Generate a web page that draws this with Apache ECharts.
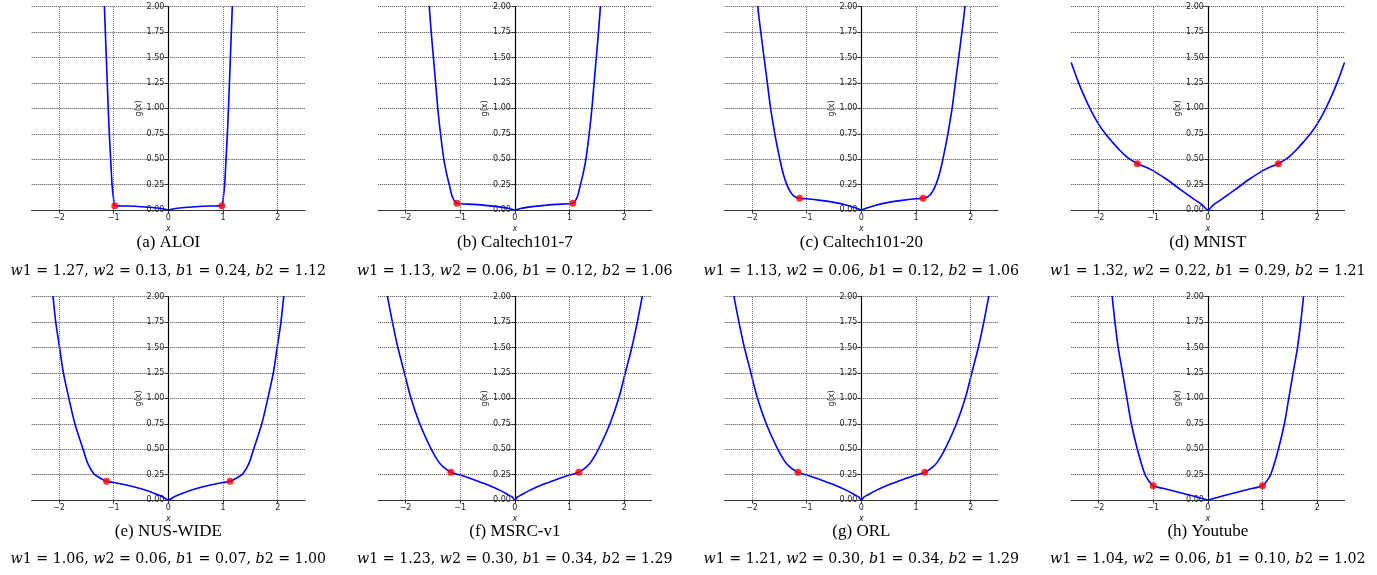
<!DOCTYPE html>
<html>
<head>
<meta charset="utf-8">
<title>g(x)</title>
<script src="https://cdn.jsdelivr.net/npm/echarts@6.0.0/dist/echarts.min.js"></script>
<style>
html, body { margin: 0; padding: 0; background: #fff; }
#main { width: 1377px; height: 575px; }
</style>
</head>
<body>
<div id="main"></div>
<script>
// curve points
var aloiX = [-1.2, -1.17, -1.135, -1.1, -1.08, -1.055, -1.03, -1.0, -0.98, -0.75, -0.5, -0.25, -0.1, 0, 0.1, 0.25, 0.5, 0.75, 0.98, 1.0, 1.03, 1.055, 1.08, 1.1, 1.135, 1.17, 1.2];
var aloiY = [2.4, 2.0, 1.5, 1.0, 0.75, 0.5, 0.25, 0.1, 0.043, 0.039, 0.032, 0.022, 0.012, 0, 0.012, 0.022, 0.032, 0.039, 0.043, 0.1, 0.25, 0.5, 0.75, 1.0, 1.5, 2.0, 2.4];

var cal7X = [-1.6, -1.565, -1.53, -1.49, -1.45, -1.41, -1.36, -1.3, -1.25, -1.2, -1.15, -1.1, -1.06, -0.75, -0.5, -0.25, -0.1, 0, 0.1, 0.25, 0.5, 0.75, 1.06, 1.1, 1.15, 1.2, 1.25, 1.3, 1.36, 1.41, 1.45, 1.49, 1.53, 1.565, 1.6];
var cal7Y = [2.3, 2.0, 1.75, 1.5, 1.25, 1.0, 0.75, 0.5, 0.36, 0.25, 0.14, 0.085, 0.066, 0.055, 0.043, 0.028, 0.015, 0, 0.015, 0.028, 0.043, 0.055, 0.066, 0.085, 0.14, 0.25, 0.36, 0.5, 0.75, 1.0, 1.25, 1.5, 1.75, 2.0, 2.3];

var cal20X = [-1.93, -1.895, -1.84, -1.78, -1.72, -1.66, -1.58, -1.53, -1.48, -1.42, -1.36, -1.3, -1.25, -1.2, -1.13, -1.0, -0.75, -0.5, -0.25, -0.1, 0, 0.1, 0.25, 0.5, 0.75, 1.0, 1.13, 1.2, 1.25, 1.3, 1.36, 1.42, 1.48, 1.53, 1.58, 1.66, 1.72, 1.78, 1.84, 1.895, 1.93];
var cal20Y = [2.25, 2.0, 1.75, 1.5, 1.25, 1.0, 0.74, 0.6, 0.47, 0.34, 0.245, 0.18, 0.145, 0.125, 0.115, 0.11, 0.095, 0.075, 0.045, 0.02, 0, 0.02, 0.045, 0.075, 0.095, 0.11, 0.115, 0.125, 0.145, 0.18, 0.245, 0.34, 0.47, 0.6, 0.74, 1.0, 1.25, 1.5, 1.75, 2.0, 2.25];

var mnistX = [-2.5, -2.375, -2.25, -2.125, -2.0, -1.875, -1.75, -1.625, -1.5, -1.4, -1.29, -1.15, -1.0, -0.75, -0.5, -0.25, -0.1, 0, 0.1, 0.25, 0.5, 0.75, 1.0, 1.15, 1.29, 1.4, 1.5, 1.625, 1.75, 1.875, 2.0, 2.125, 2.25, 2.375, 2.5];
var mnistY = [1.45, 1.265, 1.105, 0.965, 0.845, 0.75, 0.67, 0.595, 0.53, 0.49, 0.455, 0.425, 0.385, 0.30, 0.20, 0.105, 0.05, 0, 0.05, 0.105, 0.20, 0.30, 0.385, 0.425, 0.455, 0.49, 0.53, 0.595, 0.67, 0.75, 0.845, 0.965, 1.105, 1.265, 1.45];

var nusX = [-2.15, -2.11, -2.06, -1.99, -1.92, -1.82, -1.71, -1.56, -1.47, -1.36, -1.25, -1.13, -1.0, -0.75, -0.5, -0.25, -0.1, 0, 0.1, 0.25, 0.5, 0.75, 1.0, 1.13, 1.25, 1.36, 1.47, 1.56, 1.71, 1.82, 1.92, 1.99, 2.06, 2.11, 2.15];
var nusY = [2.2, 2.0, 1.75, 1.5, 1.25, 1.0, 0.75, 0.5, 0.355, 0.256, 0.217, 0.184, 0.172, 0.145, 0.11, 0.065, 0.03, 0, 0.03, 0.065, 0.11, 0.145, 0.172, 0.184, 0.217, 0.256, 0.355, 0.5, 0.75, 1.0, 1.25, 1.5, 1.75, 2.0, 2.2];

var msrcX = [-2.38, -2.33, -2.24, -2.14, -2.02, -1.9, -1.74, -1.53, -1.4, -1.3, -1.17, -1.0, -0.75, -0.5, -0.25, -0.1, -0.05, 0, 0.05, 0.1, 0.25, 0.5, 0.75, 1.0, 1.17, 1.3, 1.4, 1.53, 1.74, 1.9, 2.02, 2.14, 2.24, 2.33, 2.38];
var msrcY = [2.15, 2.0, 1.75, 1.5, 1.25, 1.0, 0.75, 0.5, 0.38, 0.32, 0.273, 0.245, 0.2, 0.15, 0.09, 0.045, 0.03, 0, 0.03, 0.045, 0.09, 0.15, 0.2, 0.245, 0.273, 0.32, 0.38, 0.5, 0.75, 1.0, 1.25, 1.5, 1.75, 2.0, 2.15];

var orlX = [-2.38, -2.33, -2.24, -2.14, -2.02, -1.9, -1.74, -1.53, -1.4, -1.3, -1.16, -1.0, -0.75, -0.5, -0.25, -0.1, -0.05, 0, 0.05, 0.1, 0.25, 0.5, 0.75, 1.0, 1.16, 1.3, 1.4, 1.53, 1.74, 1.9, 2.02, 2.14, 2.24, 2.33, 2.38];
var orlY = [2.15, 2.0, 1.75, 1.5, 1.25, 1.0, 0.75, 0.5, 0.38, 0.32, 0.272, 0.245, 0.2, 0.15, 0.09, 0.045, 0.03, 0, 0.03, 0.045, 0.09, 0.15, 0.2, 0.245, 0.272, 0.32, 0.38, 0.5, 0.75, 1.0, 1.25, 1.5, 1.75, 2.0, 2.15];

var ytX = [-1.79, -1.75, -1.7, -1.64, -1.56, -1.48, -1.4, -1.29, -1.15, -1.07, -1.0, -0.75, -0.5, -0.25, -0.1, 0, 0.1, 0.25, 0.5, 0.75, 1.0, 1.07, 1.15, 1.29, 1.4, 1.48, 1.56, 1.64, 1.7, 1.75, 1.79];
var ytY = [2.2, 2.0, 1.75, 1.5, 1.25, 1.0, 0.75, 0.5, 0.25, 0.18, 0.141, 0.106, 0.071, 0.036, 0.015, 0, 0.015, 0.036, 0.071, 0.106, 0.141, 0.18, 0.25, 0.5, 0.75, 1.0, 1.25, 1.5, 1.75, 2.0, 2.2];

// red markers
var dotsA = [[-0.98, 0.043], [0.98, 0.043]];
var dotsB = [[-1.06, 0.066], [1.06, 0.066]];
var dotsC = [[-1.13, 0.115], [1.13, 0.115]];
var dotsD = [[-1.29, 0.455], [1.29, 0.455]];
var dotsE = [[-1.13, 0.184], [1.13, 0.184]];
var dotsF = [[-1.17, 0.273], [1.17, 0.273]];
var dotsG = [[-1.16, 0.272], [1.16, 0.272]];
var dotsH = [[-1.0, 0.141], [1.0, 0.141]];

var captions = ['(a) ALOI', '(b) Caltech101-7', '(c) Caltech101-20', '(d) MNIST', '(e) NUS-WIDE', '(f) MSRC-v1', '(g) ORL', '(h) Youtube'];
var w1List = ['1.27', '1.13', '1.13', '1.32', '1.06', '1.23', '1.21', '1.04'];
var w2List = ['0.13', '0.06', '0.06', '0.22', '0.06', '0.30', '0.30', '0.06'];
var b1List = ['0.24', '0.12', '0.12', '0.29', '0.07', '0.34', '0.34', '0.10'];
var b2List = ['1.12', '1.06', '1.06', '1.21', '1.00', '1.29', '1.29', '1.02'];

var xTicks = [-2, -1, 0, 1, 2];
var xGrid = [-2, -1, 1, 2];

var curveX = [aloiX, cal7X, cal20X, mnistX, nusX, msrcX, orlX, ytX];
var curveY = [aloiY, cal7Y, cal20Y, mnistY, nusY, msrcY, orlY, ytY];
var dots = [dotsA, dotsB, dotsC, dotsD, dotsE, dotsF, dotsG, dotsH];

var myChart = echarts.init(document.getElementById('main'));

var grids = [], xAxes = [], yAxes = [], series = [], texts = [];
var tickFont = 'DejaVu Sans';

for (var i = 0; i < 8; i++) {
	var col = i % 4;
	var row = Math.floor(i / 4);
	var gLeft = 31.7 + 346.5 * col;
	var gTop = 6.7 + 290 * row;
	var gW = 273.3, gH = 203.3;
	grids.push({ left: gLeft, top: gTop, width: gW, height: gH });

	xAxes.push({
		gridIndex: i,
		type: 'value',
		min: -2.5,
		max: 2.5,
		name: 'x',
		nameLocation: 'middle',
		nameGap: 15,
		nameTextStyle: { fontStyle: 'italic', fontSize: 8, color: '#222', fontFamily: tickFont },
		axisLine: { onZero: false, lineStyle: { color: '#333', width: 1.2 } },
		axisTick: { show: true, customValues: xTicks, length: 3.5, lineStyle: { color: '#333' } },
		axisLabel: {
			customValues: xTicks,
			margin: 4,
			fontSize: 8,
			color: '#222',
			fontFamily: tickFont,
			formatter: function (v) { return String(v).replace('-', '\u2212'); }
		},
		splitLine: { show: false }
	});

	// y axis is pushed to x = 0 (middle of the grid) with a negative offset
	yAxes.push({
		gridIndex: i,
		type: 'value',
		min: 0,
		max: 2,
		interval: 0.25,
		offset: -gW / 2,
		name: 'g(x)',
		nameLocation: 'middle',
		nameGap: 25,
		nameRotate: 90,
		nameTextStyle: { fontSize: 8, color: '#222', fontFamily: tickFont },
		axisLine: { show: true, onZero: false, lineStyle: { color: '#000', width: 1.2 } },
		axisTick: { show: true, length: 3.5, lineStyle: { color: '#333' } },
		axisLabel: {
			margin: 4,
			fontSize: 8,
			color: '#222',
			fontFamily: tickFont,
			formatter: function (v) { return v.toFixed(2); }
		},
		splitLine: { show: true, lineStyle: { type: 'dotted', color: '#444', width: 1 } }
	});

	var pts = [];
	for (var k = 0; k < curveX[i].length; k++) {
		pts.push([curveX[i][k], curveY[i][k]]);
	}

	series.push({
		type: 'line',
		xAxisIndex: i,
		yAxisIndex: i,
		data: pts,
		symbol: 'none',
		smooth: 0.3,
		clip: true,
		lineStyle: { color: '#0000ff', width: 1.6 },
		markLine: {
			silent: true,
			symbol: ['none', 'none'],
			label: { show: false },
			lineStyle: { type: 'dotted', color: '#777', width: 1 },
			data: xGrid.map(function (v) { return { xAxis: v }; })
		}
	});

	series.push({
		type: 'scatter',
		xAxisIndex: i,
		yAxisIndex: i,
		data: dots[i],
		symbolSize: 7,
		z: 5,
		itemStyle: { color: '#ff0000' }
	});

	var cx = gLeft + gW / 2;
	texts.push({
		type: 'text',
		x: cx,
		y: 243 + 289 * row,
		style: {
			text: captions[i],
			fontSize: 17,
			fontFamily: 'Liberation Serif',
			fill: '#000',
			align: 'center',
			verticalAlign: 'middle'
		}
	});
	texts.push({
		type: 'text',
		x: cx,
		y: 271 + 288 * row,
		style: {
			text: '{i|w}1 = ' + w1List[i] + ', {i|w}2 = ' + w2List[i] + ', {i|b}1 = ' + b1List[i] + ', {i|b}2 = ' + b2List[i],
			fontSize: 14.2,
			fontFamily: 'DejaVu Serif',
			fill: '#000',
			align: 'center',
			verticalAlign: 'middle',
			rich: {
				i: { fontStyle: 'italic', fontSize: 14.2, fontFamily: 'DejaVu Serif', fill: '#000' }
			}
		}
	});
}

var option = {
	backgroundColor: '#fff',
	animation: false,
	grid: grids,
	xAxis: xAxes,
	yAxis: yAxes,
	series: series,
	graphic: texts
};
myChart.setOption(option);
</script>
</body>
</html>
